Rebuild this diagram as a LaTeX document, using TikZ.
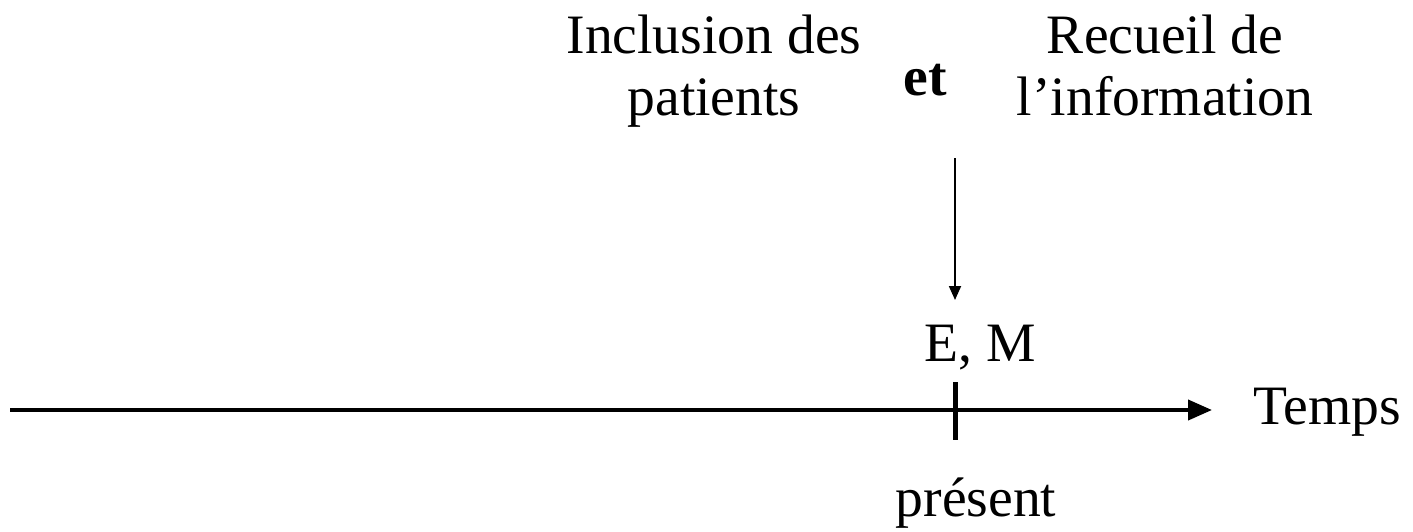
\documentclass[tikz,border=0pt]{standalone}
\usepackage{fontspec}
\setmainfont{Liberation Serif}
\usetikzlibrary{arrows.meta}
\begin{document}
\begin{tikzpicture}[x=0.5pt,y=-0.5pt,
  lbl/.style={inner sep=0pt,align=center,font=\fontsize{27.8}{31}\selectfont},
  axis/.style={line width=2pt,-{Triangle[length=12pt,width=10pt]}},
  pointer/.style={line width=0.9pt,-{Triangle[length=7pt,width=6pt]}}]
\useasboundingbox (0,0) rectangle (1413,531);
\node[lbl,anchor=north] (incl) at (714,15) {Inclusion des\\patients};
\node[lbl,font=\fontsize{27.8}{31}\selectfont\bfseries] (et) at (925,80) {et};
\node[lbl,anchor=north] (rec) at (1165,15) {Recueil de\\l’information};
\coordinate (atop) at (955,158);
\coordinate (abot) at (955,300);
\draw[pointer] (atop) -- (abot);
\node[lbl] (em) at (980,348) {E, M};
\coordinate (xs) at (10,410);
\coordinate (xe) at (1212,410);
\draw[axis] (xs) -- (xe);
\coordinate (ttop) at (955,382);
\coordinate (tbot) at (955,440);
\draw[line width=2.5pt] (ttop) -- (tbot);
\node[lbl] (temps) at (1327,412) {Temps};
\node[lbl] (pres) at (976,503) {présent};
\end{tikzpicture}
\end{document}
